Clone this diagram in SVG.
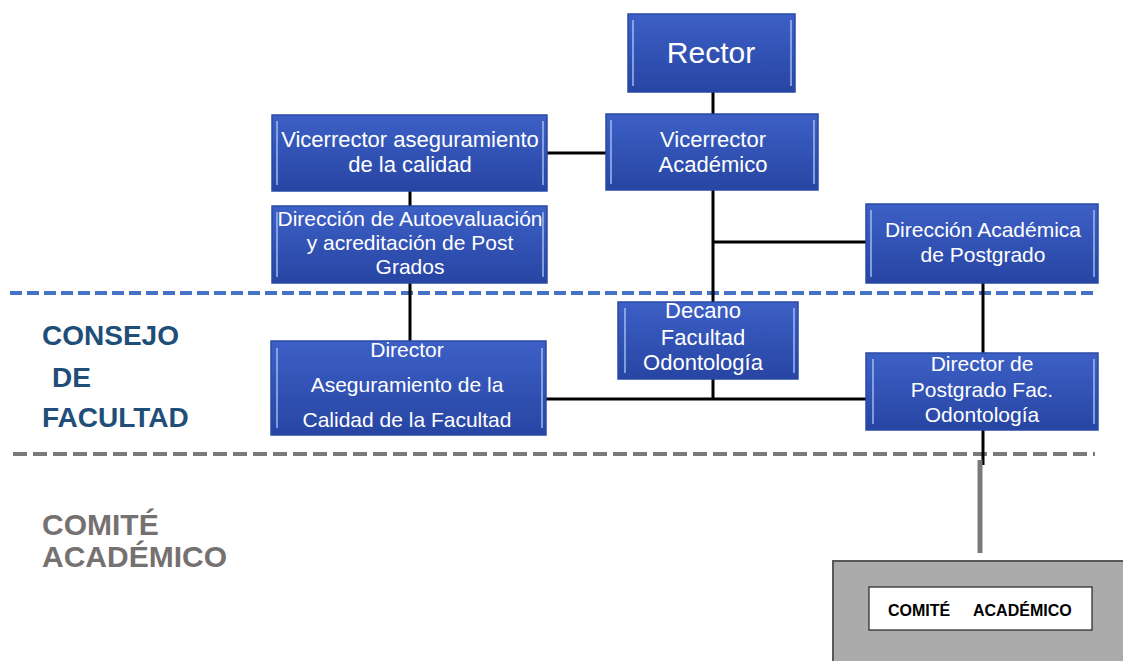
<svg xmlns="http://www.w3.org/2000/svg" width="1123" height="661" viewBox="0 0 1123 661">
<defs>
<linearGradient id="bg" x1="0" y1="0" x2="0" y2="1">
<stop offset="0" stop-color="#3d60c6"/>
<stop offset="1" stop-color="#2745a3"/>
</linearGradient>
<style>
.box{fill:url(#bg);stroke:#2a49a6;stroke-width:1.5}
.hl{stroke:#a7c0f4;stroke-width:2;opacity:0.7}
.t{font-family:"Liberation Sans",Arial,sans-serif;font-size:21px;fill:#ffffff;text-anchor:middle}
.conn{stroke:#000000;stroke-width:3;fill:none}
.lblB{font-family:"Liberation Sans",Arial,sans-serif;font-weight:bold;font-size:28px;fill:#1f4e79}
.lblG{font-family:"Liberation Sans",Arial,sans-serif;font-weight:bold;font-size:30px;fill:#767171}
.ct{font-family:"Liberation Sans",Arial,sans-serif;font-weight:bold;font-size:16px;fill:#000000}
</style>
</defs>
<rect width="1123" height="661" fill="#ffffff"/>

<g id="separators">
<line x1="10" y1="293" x2="1095" y2="293" stroke="#4472c4" stroke-width="4" stroke-dasharray="12 5"/>
<line x1="13" y1="454" x2="1095" y2="454" stroke="#7a7a7a" stroke-width="4" stroke-dasharray="14 6"/>
</g>

<g id="connectors">
<line class="conn" x1="713" y1="92" x2="713" y2="115"/>
<line class="conn" x1="547" y1="153" x2="606" y2="153"/>
<line class="conn" x1="410" y1="191" x2="410" y2="206"/>
<line class="conn" x1="713" y1="190" x2="713" y2="399"/>
<line class="conn" x1="713" y1="242" x2="866" y2="242"/>
<line class="conn" x1="410" y1="283" x2="410" y2="341"/>
<line class="conn" x1="983" y1="283" x2="983" y2="353"/>
<line class="conn" x1="546" y1="399" x2="866" y2="399"/>
<line class="conn" x1="983" y1="430" x2="983" y2="465"/>
<line x1="980" y1="460" x2="980" y2="553" stroke="#7a7a7a" stroke-width="5"/>
</g>

<g id="rector">
<rect class="box" x="628" y="14" width="167" height="78"/>
<line class="hl" x1="633" y1="20" x2="633" y2="86"/><line class="hl" x1="791" y1="20" x2="791" y2="86"/>
<text class="t" x="711" y="63" style="font-size:30px">Rector</text>
</g>

<g id="vicerrector-academico">
<rect class="box" x="606" y="114" width="212" height="76"/>
<line class="hl" x1="611" y1="120" x2="611" y2="184"/><line class="hl" x1="814" y1="120" x2="814" y2="184"/>
<text class="t" x="713" y="147" style="font-size:22px">Vicerrector</text>
<text class="t" x="713" y="172" style="font-size:22px">Académico</text>
</g>

<g id="vicerrector-aseguramiento">
<rect class="box" x="272" y="115" width="275" height="76"/>
<line class="hl" x1="277" y1="121" x2="277" y2="185"/><line class="hl" x1="543" y1="121" x2="543" y2="185"/>
<text class="t" x="410" y="147" style="font-size:22px">Vicerrector aseguramiento</text>
<text class="t" x="410" y="172" style="font-size:22px">de la calidad</text>
</g>

<g id="direccion-autoevaluacion">
<rect class="box" x="272" y="206" width="275" height="77"/>
<line class="hl" x1="277" y1="212" x2="277" y2="277"/><line class="hl" x1="543" y1="212" x2="543" y2="277"/>
<text class="t" x="410" y="226">Dirección de Autoevaluación</text>
<text class="t" x="410" y="250">y acreditación de Post</text>
<text class="t" x="410" y="274">Grados</text>
</g>

<g id="direccion-academica-postgrado">
<rect class="box" x="866" y="204" width="232" height="79"/>
<line class="hl" x1="871" y1="210" x2="871" y2="277"/><line class="hl" x1="1094" y1="210" x2="1094" y2="277"/>
<text class="t" x="983" y="237">Dirección Académica</text>
<text class="t" x="983" y="262">de Postgrado</text>
</g>

<g id="director-aseguramiento">
<rect class="box" x="271" y="341" width="275" height="94"/>
<line class="hl" x1="277" y1="348" x2="277" y2="428"/><line class="hl" x1="542" y1="348" x2="542" y2="428"/>
<text class="t" x="407" y="357">Director</text>
<text class="t" x="407" y="392">Aseguramiento de la</text>
<text class="t" x="407" y="427">Calidad de la Facultad</text>
</g>

<g id="decano">
<rect class="box" x="618" y="302" width="180" height="77"/>
<line class="hl" x1="625" y1="308" x2="625" y2="373"/><line class="hl" x1="794" y1="308" x2="794" y2="373"/>
<text class="t" x="703" y="318" style="font-size:22px">Decano</text>
<text class="t" x="703" y="345" style="font-size:22px">Facultad</text>
<text class="t" x="703" y="370" style="font-size:22px">Odontología</text>
</g>

<g id="director-postgrado">
<rect class="box" x="866" y="353" width="232" height="77"/>
<line class="hl" x1="873" y1="359" x2="873" y2="424"/><line class="hl" x1="1094" y1="359" x2="1094" y2="424"/>
<text class="t" x="982" y="371">Director de</text>
<text class="t" x="982" y="397">Postgrado Fac.</text>
<text class="t" x="982" y="422">Odontología</text>
</g>

<g id="labels">
<text class="lblB" x="42" y="345">CONSEJO</text>
<text class="lblB" x="52" y="387">DE</text>
<text class="lblB" x="42" y="427">FACULTAD</text>
<text class="lblG" x="42" y="535">COMITÉ</text>
<text class="lblG" x="42" y="567">ACADÉMICO</text>
</g>

<g id="comite-academico">
<rect x="833" y="561" width="295" height="105" fill="#ababab" stroke="#595959" stroke-width="2"/>
<rect x="869" y="587" width="223" height="43" fill="#ffffff" stroke="#222222" stroke-width="1.2"/>
<text class="ct" x="888" y="616">COMITÉ</text>
<text class="ct" x="973" y="616">ACADÉMICO</text>
</g>
</svg>
